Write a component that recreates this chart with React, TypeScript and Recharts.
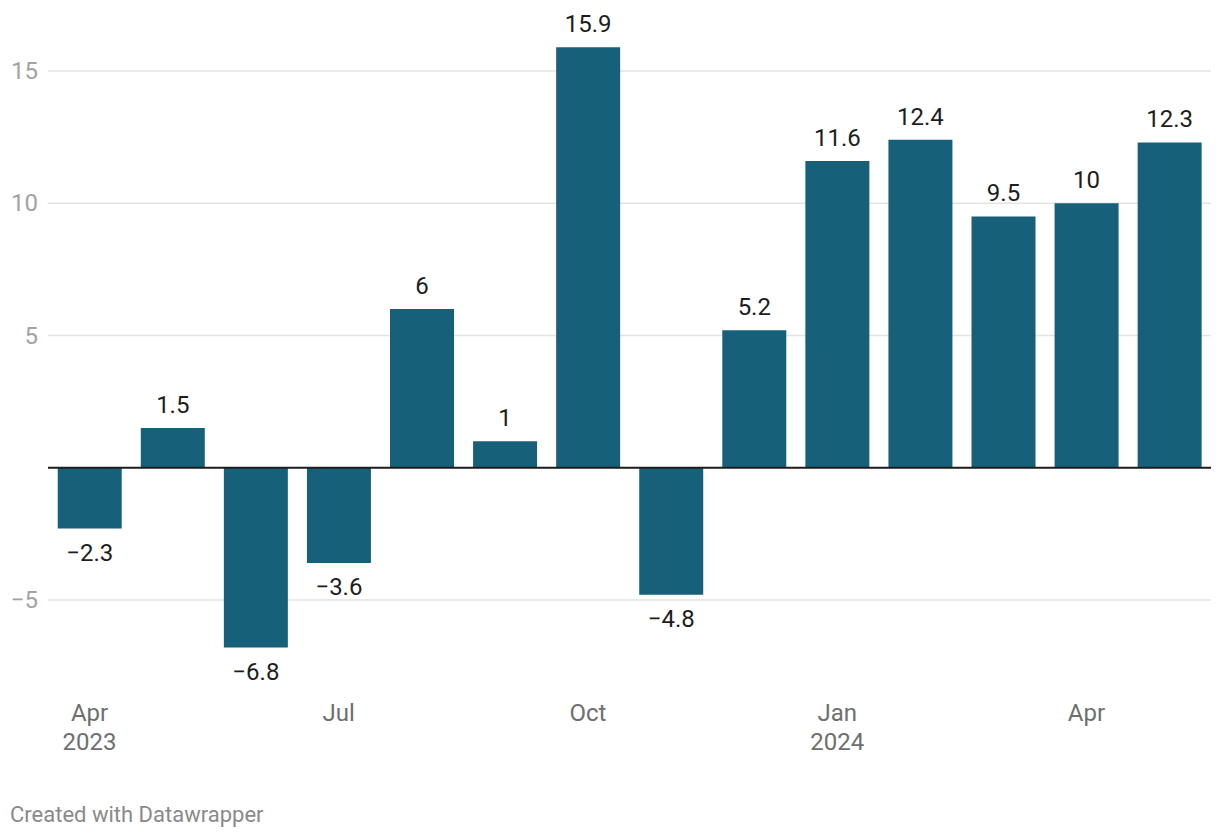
import React from 'react';
import {
  BarChart,
  Bar,
  XAxis,
  YAxis,
  CartesianGrid,
  ReferenceLine,
  LabelList,
} from 'recharts';

const months = [
  'Apr 2023', 'May 2023', 'Jun 2023', 'Jul 2023', 'Aug 2023', 'Sep 2023', 'Oct 2023',
  'Nov 2023', 'Dec 2023', 'Jan 2024', 'Feb 2024', 'Mar 2024', 'Apr 2024', 'May 2024',
];
const values = [-2.3, 1.5, -6.8, -3.6, 6, 1, 15.9, -4.8, 5.2, 11.6, 12.4, 9.5, 10, 12.3];

// only a few months get an axis label (second line = year)
const xTickLabels: Record<string, string[]> = {
  'Apr 2023': ['Apr', '2023'],
  'Jul 2023': ['Jul'],
  'Oct 2023': ['Oct'],
  'Jan 2024': ['Jan', '2024'],
  'Apr 2024': ['Apr'],
};
const yTicks = [-5, 0, 5, 10, 15];
const gridValues = [-5, 5, 10, 15];

const data = months.map((m, i) => ({ month: m, value: values[i] }));

const FONT = 'Roboto, "Noto Sans", sans-serif';
const BAR = '#176079';

const fmt = (v: number) => (v < 0 ? '\u2212' + Math.abs(v) : String(v));

function XTick(props: any) {
  const { x, y, payload } = props;
  const lines = xTickLabels[payload.value];
  if (!lines) return null;
  return (
    <g>
      {lines.map((l, i) => (
        <text
          key={i}
          x={x}
          y={y + 60 + i * 29}
          textAnchor="middle"
          fill="#6f6f6f"
          fontSize={24}
          fontFamily={FONT}
        >
          {l}
        </text>
      ))}
    </g>
  );
}

function YTick(props: any) {
  const { y, payload } = props;
  if (payload.value === 0) return null;
  return (
    <text x={38} y={y + 8} textAnchor="end" fill="#a3a3a3" fontSize={24} fontFamily={FONT}>
      {fmt(payload.value)}
    </text>
  );
}

function ValueLabel(props: any) {
  const { x, y, width, height, value } = props;
  const top = Math.min(y, y + height);
  const bottom = Math.max(y, y + height);
  const cx = x + width / 2;
  const ty = value < 0 ? bottom + 32 : top - 15;
  return (
    <text x={cx} y={ty} textAnchor="middle" fill="#1d1d1d" fontSize={24} fontFamily={FONT}>
      {fmt(value)}
    </text>
  );
}

export default function App() {
  return (
    <div style={{ position: 'absolute', left: 0, top: 0, width: 1220, height: 838, background: '#fff' }}>
      <BarChart
        width={1220}
        height={838}
        data={data}
        margin={{ top: 44.55, right: 9, bottom: 125.1, left: 0 }}
        barCategoryGap="11.7%"
      >
        <CartesianGrid
          vertical={false}
          horizontalValues={gridValues}
          stroke="#e3e3e3"
          strokeWidth={1.5}
        />
        <XAxis
          dataKey="month"
          interval={0}
          tickLine={false}
          axisLine={false}
          height={60}
          tick={<XTick />}
        />
        <YAxis
          domain={[-7, 16]}
          ticks={yTicks}
          width={48}
          tickLine={false}
          axisLine={false}
          tick={<YTick />}
        />
        <Bar dataKey="value" fill={BAR} isAnimationActive={false}>
          <LabelList dataKey="value" content={<ValueLabel />} />
        </Bar>
        <ReferenceLine y={0} stroke="#1d1d1d" strokeWidth={2} />
      </BarChart>
      <div
        style={{
          position: 'absolute',
          left: 10,
          top: 802,
          fontFamily: FONT,
          fontSize: 22,
          color: '#8a8a8a',
        }}
      >
        Created with Datawrapper
      </div>
    </div>
  );
}
